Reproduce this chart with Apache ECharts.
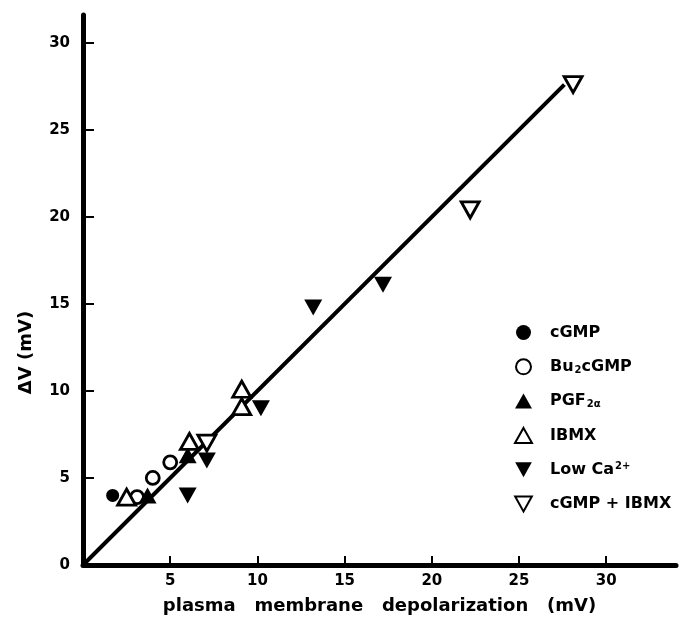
<!DOCTYPE html>
<html>
<head>
<meta charset="utf-8">
<script src="https://cdn.jsdelivr.net/npm/echarts@6/dist/echarts.min.js"></script>
<style>
html,body{margin:0;padding:0;background:#fff;}
#c{width:680px;height:626px;}
</style>
</head>
<body>
<div id="c"></div>
<script>
// ---- data ----
const cGMP      = [[1.7, 4.0]];
const bu2cGMP   = [[3.1, 3.9], [4.0, 5.0], [5.0, 5.9]];
const pgf2a     = [[3.7, 4.0], [6.0, 6.3]];
const ibmx      = [[2.5, 3.9], [6.1, 7.1], [9.1, 10.1], [9.1, 9.1]];
const lowCa     = [[6.0, 4.0], [7.1, 6.0], [10.2, 9.0], [13.2, 14.8], [17.2, 16.1]];
const cGMPibmx  = [[7.1, 7.0], [22.2, 20.4], [28.1, 27.6]];
const fitLine   = [[0, 0], [27.6, 27.6]];
const seriesNames = ['cGMP', 'Bu2cGMP', 'PGF2α', 'IBMX', 'Low Ca2+', 'cGMP + IBMX'];
const legendLabels = {
  'cGMP': 'cGMP',
  'Bu2cGMP': 'Bu{sub|2}cGMP',
  'PGF2α': 'PGF{sub|2α}',
  'IBMX': 'IBMX',
  'Low Ca2+': 'Low Ca{sup|2+}',
  'cGMP + IBMX': 'cGMP + IBMX'
};
const xTicks = [5, 10, 15, 20, 25, 30];
const yTicks = [5, 10, 15, 20, 25, 30];
const yLabels = [0, 5, 10, 15, 20, 25, 30];

const FONT = 'DejaVu Sans';
const downTri = 'path://M0,0L20,0L10,18Z';
const TRI = [18, 16];

const chart = echarts.init(document.getElementById('c'), null, {renderer: 'canvas'});

function scatter(name, data, symbol, size, filled) {
  return {
    type: 'scatter', name: name, data: data, symbol: symbol, symbolSize: size, z: 3,
    itemStyle: filled
      ? {color: '#000', borderColor: '#000', borderWidth: 0, opacity: 1}
      : {color: '#fff', borderColor: '#000', borderWidth: 2.8, opacity: 1}
  };
}

const option = {
  backgroundColor: '#fff',
  animation: false,
  textStyle: {fontFamily: FONT, fontWeight: 'bold', color: '#000'},
  grid: {left: 83, right: 4, top: 15, bottom: 61, containLabel: false},
  xAxis: {
    type: 'value', min: 0, max: 34, interval: 5,
    name: 'plasma   membrane   depolarization   (mV)',
    nameLocation: 'middle', nameGap: 32,
    nameTextStyle: {fontFamily: FONT, fontWeight: 'bold', fontSize: 18, color: '#000'},
    axisLine: {onZero: false, lineStyle: {color: '#000', width: 5}},
    axisTick: {inside: true, length: 9, customValues: xTicks, lineStyle: {color: '#000', width: 2}},
    axisLabel: {customValues: xTicks, margin: 9, fontFamily: FONT, fontWeight: 'bold', fontSize: 15, color: '#000'},
    splitLine: {show: false}
  },
  yAxis: {
    type: 'value', min: 0, max: 31.6, interval: 5,
    name: 'ΔV (mV)',
    nameLocation: 'middle', nameGap: 48, nameRotate: 90,
    nameTextStyle: {fontFamily: FONT, fontWeight: 'bold', fontSize: 18, color: '#000', padding: [0, 125, 0, 0]},
    axisLine: {onZero: false, lineStyle: {color: '#000', width: 5}},
    axisTick: {inside: true, length: 11, customValues: yTicks, lineStyle: {color: '#000', width: 2}},
    axisLabel: {customValues: yLabels, margin: 13, fontFamily: FONT, fontWeight: 'bold', fontSize: 15, color: '#000'},
    splitLine: {show: false}
  },
  legend: {
    data: seriesNames,
    orient: 'vertical',
    left: 514, top: 324,
    padding: 0,
    itemWidth: 17, itemHeight: 15, itemGap: 17.3,
    formatter: function (n) { return legendLabels[n]; },
    textStyle: {
      fontFamily: FONT, fontWeight: 'bold', fontSize: 16, color: '#000', lineHeight: 17,
      padding: [0, 0, 0, 13],
      rich: {
        sub: {fontFamily: FONT, fontWeight: 'bold', fontSize: 10, lineHeight: 10, padding: [7, 0, 0, 1], color: '#000'},
        sup: {fontFamily: FONT, fontWeight: 'bold', fontSize: 10, lineHeight: 10, padding: [0, 0, 7, 1], color: '#000'}
      }
    }
  },
  series: [
    {
      type: 'line', name: 'fit', data: fitLine, showSymbol: false, symbol: 'none', z: 2,
      lineStyle: {color: '#000', width: 4}, silent: true
    },
    scatter(seriesNames[0], cGMP, 'circle', 13, true),
    scatter(seriesNames[1], bu2cGMP, 'circle', 13, false),
    scatter(seriesNames[2], pgf2a, 'triangle', TRI, true),
    scatter(seriesNames[3], ibmx, 'triangle', TRI, false),
    scatter(seriesNames[4], lowCa, downTri, TRI, true),
    scatter(seriesNames[5], cGMPibmx, downTri, TRI, false)
  ]
};
chart.setOption(option);
</script>
</body>
</html>
